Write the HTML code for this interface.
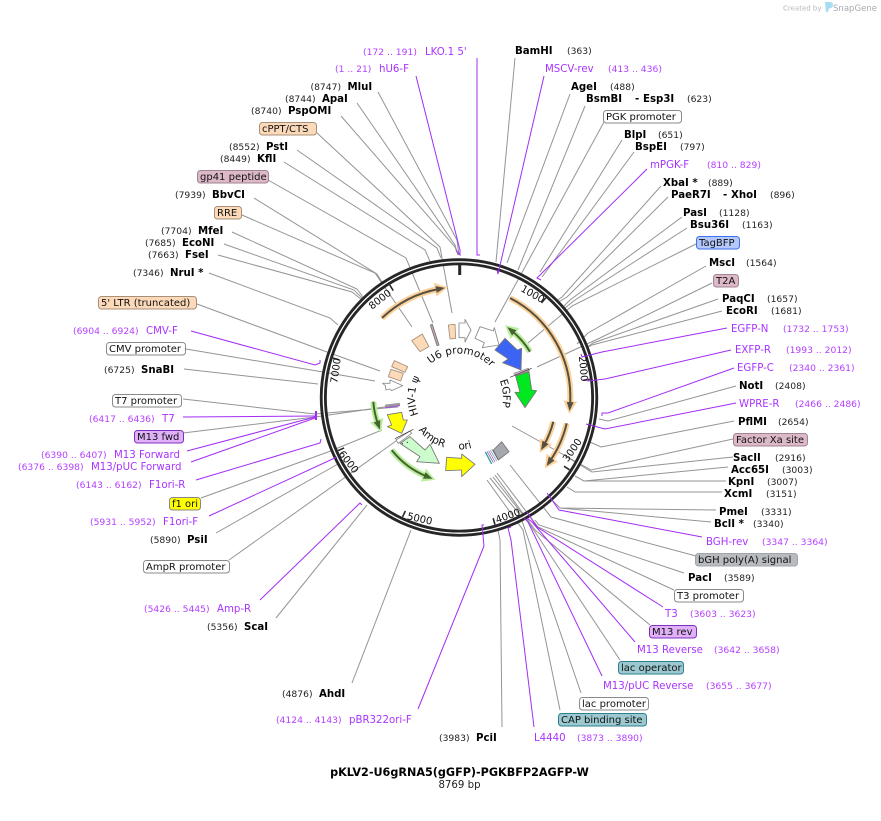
<!DOCTYPE html>
<html><head><meta charset="utf-8"><style>
html,body{margin:0;padding:0;background:#fff}
svg{display:block}
text{font-family:"DejaVu Sans","Liberation Sans",sans-serif;font-size:10.2px;fill:#000;white-space:pre}
.n{font-weight:bold}
.c{font-size:9.2px;fill:#222}
.p{fill:#a933ff}
.pc{font-size:9.2px;fill:#b540ff}
.f{font-size:10px;fill:#111}
.g{fill:none;stroke:#949494;stroke-width:1}
.v{fill:none;stroke:#a32cf5;stroke-width:1}
.t{font-size:10.2px;fill:#222}
.i{font-size:10.5px;fill:#111}
.o{fill:#fcd9b8;stroke:#a89078}
.m{fill:#dcb8c8;stroke:#a0848f}
.w{fill:#fff;stroke:#8a8a8a}
</style></head><body>
<svg width="881" height="821" viewBox="0 0 881 821" xmlns="http://www.w3.org/2000/svg">
<defs>
<path id="cw" d="M415 397.5 A44 44 0 0 1 503 397.5"/>
<path id="ccw" d="M407 397.5 A52 52 0 0 0 511 397.5"/>
<marker id="ho" markerUnits="userSpaceOnUse" markerWidth="20" markerHeight="20" refX="4" refY="10" orient="auto"><polygon points="0,3 13,10 0,17" fill="#fcd29c"/></marker>
<marker id="hd" markerUnits="userSpaceOnUse" markerWidth="16" markerHeight="16" refX="3" refY="8" orient="auto"><polygon points="0,4.5 9,8 0,11.5" fill="#55503f"/></marker>
<marker id="hg" markerUnits="userSpaceOnUse" markerWidth="20" markerHeight="20" refX="4" refY="10" orient="auto"><polygon points="0,3 13,10 0,17" fill="#b9ef9c"/></marker>
<marker id="hn" markerUnits="userSpaceOnUse" markerWidth="16" markerHeight="16" refX="3" refY="8" orient="auto"><polygon points="0,4.5 9,8 0,11.5" fill="#476330"/></marker>
</defs>

<!-- gray connectors -->
<g class="g">
<polyline points="515,58 496,262"/>
<polyline points="570,94 507,263"/>
<polyline points="585,106 518,270"/>
<polyline points="604,122 495,322"/>
<polyline points="622,140 540,272"/>
<polyline points="634,152 542,277"/>
<polyline points="661,186 562,297 555,302"/>
<polyline points="668,197 567,297 557,303"/>
<polyline points="682,217 570,300 562,308"/>
<polyline points="687,228 575,300 565,308"/>
<polyline points="696,244 572,306 528,343"/>
<polyline points="706,266 588,333 577,344"/>
<polyline points="712,283 600,338 537,367"/>
<polyline points="718,299 593,343 583,350"/>
<polyline points="722,311 592,345 583,350"/>
<polyline points="736,386 608,421 599,419"/>
<polyline points="734,421 601,447 590,442"/>
<polyline points="733,439 591,470 512,426"/>
<polyline points="733,457 592,472 565,456"/>
<polyline points="728,467 584,481 575,476"/>
<polyline points="726,481 584,481 575,476"/>
<polyline points="722,492 575,492 567,487"/>
<polyline points="716,510 560,508 552,500"/>
<polyline points="711,522 560,508"/>
<polyline points="696,556 551,517 510,465"/>
<polyline points="684,573 539,525 535,520"/>
<polyline points="674,590 538,527 497,473"/>
<polyline points="650,625 535,530 495,475"/>
<polyline points="620,660 527,520 493,477"/>
<polyline points="581,693 520,515 490,478"/>
<polyline points="560,710 523,530 487,480"/>
<polyline points="502,727 500,540 498,530"/>
<polyline points="352,683 411,530"/>
<polyline points="276,618 367,505"/>
<polyline points="229,560 396,441"/>
<polyline points="216,533 345,460"/>
<polyline points="201,498 328,452 382,430"/>
<polyline points="183,433 315,417 398,405"/>
<polyline points="183,399 315,414 398,407"/>
<polyline points="184,369 318,384"/>
<polyline points="186,349 323,372 375,381"/>
<polyline points="197,304 327,352 380,371"/>
<polyline points="209,273 330,318 338,325"/>
<polyline points="218,255 352,292 362,300"/>
<polyline points="224,244 354,290 362,298"/>
<polyline points="232,232 357,289 363,297"/>
<polyline points="242,215 375,273 412,327"/>
<polyline points="254,198 377,274 382,282"/>
<polyline points="268,180 406,258 433,323"/>
<polyline points="284,162 425,250 433,268"/>
<polyline points="297,150 437,248 441,258"/>
<polyline points="317,133 440,247 452,313"/>
<polyline points="341,116 455,247 458,255"/>
<polyline points="357,103 455,245 458,255"/>
<polyline points="378,92 457,240 459,255"/>
</g>

<!-- plasmid ring -->
<circle cx="459" cy="397.5" r="135.7" fill="none" stroke="#262626" stroke-width="7"/>
<circle cx="459" cy="397.5" r="135.7" fill="none" stroke="#fff" stroke-width="1.3"/>
<line x1="459.7" y1="264.5" x2="459.7" y2="275" stroke="#262626" stroke-width="3"/>
<g stroke="#262626" stroke-width="1.6">
<line x1="459" y1="265.5" x2="459" y2="272" transform="rotate(41.05 459 397.5)"/>
<line x1="459" y1="265.5" x2="459" y2="272" transform="rotate(82.1 459 397.5)"/>
<line x1="459" y1="265.5" x2="459" y2="272" transform="rotate(123.2 459 397.5)"/>
<line x1="459" y1="265.5" x2="459" y2="272" transform="rotate(164.2 459 397.5)"/>
<line x1="459" y1="265.5" x2="459" y2="272" transform="rotate(205.3 459 397.5)"/>
<line x1="459" y1="265.5" x2="459" y2="272" transform="rotate(246.3 459 397.5)"/>
<line x1="459" y1="265.5" x2="459" y2="272" transform="rotate(287.4 459 397.5)"/>
<line x1="459" y1="265.5" x2="459" y2="272" transform="rotate(328.4 459 397.5)"/>
</g>
<g text-anchor="middle" style="font-size:10px">
<text style="font-size:10px;fill:#111" transform="translate(531 297) rotate(30)">1000</text>
<text style="font-size:10px;fill:#111" transform="translate(580 369) rotate(85)">2000</text>
<text style="font-size:10px;fill:#111" transform="translate(575 452) rotate(-55)">3000</text>
<text style="font-size:10px;fill:#111" transform="translate(509 519) rotate(-20)">4000</text>
<text style="font-size:10px;fill:#111" transform="translate(419 522) rotate(13)">5000</text>
<text style="font-size:10px;fill:#111" transform="translate(346 464) rotate(52)">6000</text>
<text style="font-size:10px;fill:#111" transform="translate(339 371) rotate(-82)">7000</text>
<text style="font-size:10px;fill:#111" transform="translate(382 302) rotate(-38)">8000</text>
</g>

<!-- purple primer connectors -->
<g class="v">
<polyline points="477,58 477,255 480,255"/>
<polyline points="416,76 460,250 460,255 456,250"/>
<polyline points="544,76 498,274 497,270"/>
<polyline points="647,169 537,278 541,280"/>
<polyline points="727,328 602,352 582,357 581,354"/>
<polyline points="731,350 605,379 588,381 587,378"/>
<polyline points="734,368 608,413 602,413 602,416"/>
<polyline points="736,403 605,429 586,424"/>
<polyline points="702,537 559,510 547,493"/>
<polyline points="663,607 537,527 527,512"/>
<polyline points="635,642 532,522 527,518"/>
<polyline points="602,676 528,522 524,518"/>
<polyline points="534,727 511,540 508,528 511,527"/>
<polyline points="418,709 484,546 482,525 484,525"/>
<polyline points="260,600 360,503 362,505"/>
<polyline points="196,480 320,443 321,439"/>
<polyline points="191,462 315,418"/>
<polyline points="187,451 315,417"/>
<polyline points="183,417 315,416"/>
<polyline points="209,516 337,457"/>
<polyline points="191,331 315,365 320,363 320,360"/>
</g>
<line x1="316" y1="411" x2="316" y2="420" stroke="#a32cf5" stroke-width="2"/>

<!-- annotation arcs -->
<g fill="none" stroke-linecap="butt">
<path d="M382 318 A111 111 0 0 1 439 289" stroke="#fcd29c" stroke-width="6" marker-end="url(#ho)"/>
<path d="M382 318 A111 111 0 0 1 439 289" stroke="#55503f" stroke-width="2" marker-end="url(#hd)"/>
<path d="M510 298 A111 111 0 0 1 570 405" stroke="#fcd29c" stroke-width="6" marker-end="url(#ho)"/>
<path d="M510 298 A111 111 0 0 1 570 405" stroke="#55503f" stroke-width="2" marker-end="url(#hd)"/>
<path d="M553.3 421.7 A97.5 97.5 0 0 1 544 445" stroke="#fcd29c" stroke-width="6" marker-end="url(#ho)"/>
<path d="M553.3 421.7 A97.5 97.5 0 0 1 544 445" stroke="#55503f" stroke-width="2" marker-end="url(#hd)"/>
<path d="M566.7 423.3 A111 111 0 0 1 550 461" stroke="#fcd29c" stroke-width="6" marker-end="url(#ho)"/>
<path d="M566.7 423.3 A111 111 0 0 1 550 461" stroke="#55503f" stroke-width="2" marker-end="url(#hd)"/>
<path d="M530 351.7 A85 85 0 0 0 512 331" stroke="#b9ef9c" stroke-width="6" marker-end="url(#hg)"/>
<path d="M530 351.7 A85 85 0 0 0 512 331" stroke="#476330" stroke-width="2" marker-end="url(#hn)"/>
<path d="M373.3 401.7 A85 85 0 0 0 378 424" stroke="#b9ef9c" stroke-width="6" marker-end="url(#hg)"/>
<path d="M373.3 401.7 A85 85 0 0 0 378 424" stroke="#476330" stroke-width="2" marker-end="url(#hn)"/>
<path d="M391.7 450 A85 85 0 0 0 427 476.5" stroke="#b9ef9c" stroke-width="6" marker-end="url(#hg)"/>
<path d="M391.7 450 A85 85 0 0 0 427 476.5" stroke="#476330" stroke-width="2" marker-end="url(#hn)"/>
</g>

<!-- feature shapes, traced in 3x space -->
<g transform="translate(310 250) scale(0.33333)" stroke-width="2.6" stroke-linejoin="round">
<polygon class="o" points="305,272 337,252 357,290 330,305"/>
<polygon points="361,225 367,223 387,285 381,287" fill="#c9a0b5" stroke="#777"/>
<polygon class="o" points="415,225 435,223 437,265 420,267"/>
<polygon class="w" points="447,219 465,219 465,208 483,240 465,276 465,263 447,263"/>
<polygon class="w" points="495,265 510,230 550,243 553,233 567,285 517,293 523,278"/>
<polygon points="555,300 585,265 622,300 635,295 633,360 578,338 595,327" fill="#3b64f5" stroke="#777"/>
<polygon points="612,370 655,355 658,362 617,378" fill="#dcb0c6" stroke="#999"/>
<line x1="600" y1="382" x2="665" y2="355" stroke="#333" stroke-width="2"/>
<polygon points="617,378 657,365 665,420 680,422 645,473 615,427 630,427" fill="#00e81f" stroke="#777"/>
<polygon class="o" points="253,332 293,350 285,367 245,350"/>
<polygon class="o" points="243,358 280,370 272,393 235,380"/>
<polygon class="w" points="218,400 240,400 240,390 278,407 245,422 240,417 228,420 226,407"/>
<polygon points="226,465 268,460 269,465 227,470" fill="#999" stroke="#999"/>
<line x1="226" y1="473" x2="270" y2="467" stroke="#a040e0" stroke-width="2.5"/>
<polygon points="232,494 275,487 280,510 292,510 275,550 232,530 245,525" fill="#ffff00" stroke="#777"/>
<polygon class="w" points="258,570 300,543 305,550 265,580"/>
<line x1="255" y1="566" x2="310" y2="538" stroke="#333" stroke-width="2"/>
<polygon points="270,580 300,560 345,600 360,583 388,640 320,635 330,620" fill="#ccfccc" stroke="#777"/>
<circle cx="292" cy="577" r="1.8" fill="#222"/><circle cx="277" cy="581" r="1.8" fill="#222"/>
<polygon points="410,622 455,625 455,612 495,643 455,680 455,660 407,662" fill="#ffff00" stroke="#777"/>
<polygon points="550,600 575,575 597,605 565,630" fill="#a5a9ad" stroke="#777"/>
<line x1="526" y1="606" x2="545" y2="642" stroke="#3a9aaa" stroke-width="4"/>
<line x1="531" y1="604" x2="550" y2="638" stroke="#666" stroke-width="2"/>
<line x1="536" y1="602" x2="555" y2="636" stroke="#a040e0" stroke-width="2"/>
<line x1="541" y1="600" x2="560" y2="633" stroke="#8fbcc4" stroke-width="3"/>
<line x1="546" y1="598" x2="565" y2="631" stroke="#666" stroke-width="2"/>
</g>

<!-- curved inner labels -->
<text class="i" text-anchor="middle" transform="rotate(3 459 397.5)"><textPath href="#cw" startOffset="50%">U6 promoter</textPath></text>
<text class="i" text-anchor="middle" transform="rotate(85 459 397.5)"><textPath href="#cw" startOffset="50%">EGFP</textPath></text>
<text class="i" text-anchor="middle" transform="rotate(-88 459 397.5)"><textPath href="#cw" startOffset="50%">HIV-1 ψ</textPath></text>
<text class="i" text-anchor="middle" transform="rotate(34 459 397.5)"><textPath href="#ccw" startOffset="50%">AmpR</textPath></text>
<text class="i" text-anchor="middle" transform="rotate(-7 459 397.5)"><textPath href="#ccw" startOffset="50%">ori</textPath></text>

<!-- feature label boxes -->
<g stroke-width="1">
<rect class="o" x="259.5" y="122.5" width="57" height="12.5" rx="3"/>
<rect class="m" x="197.5" y="170.5" width="71" height="12.5" rx="3"/>
<rect class="o" x="214.5" y="206.5" width="27" height="12.5" rx="3"/>
<rect class="o" x="98.5" y="296.5" width="98" height="12.5" rx="3"/>
<rect class="w" x="106.5" y="342.5" width="79" height="12.5" rx="3"/>
<rect class="w" x="112.5" y="394.5" width="69" height="12.5" rx="3"/>
<rect x="134.5" y="430.5" width="49" height="12.5" rx="3" fill="#e0b0f8" stroke="#8030c0"/>
<rect x="169.5" y="497.5" width="31" height="12.5" rx="3" fill="#ffff00" stroke="#888"/>
<rect class="w" x="143.5" y="560.5" width="86" height="12.5" rx="3"/>
<rect class="w" x="603.5" y="110.5" width="78" height="12.5" rx="3"/>
<rect x="696.5" y="236.5" width="43" height="12.5" rx="3" fill="#b4c8fa" stroke="#4070f0"/>
<rect class="m" x="713.5" y="274.5" width="25" height="12.5" rx="3"/>
<rect class="m" x="733.5" y="433.5" width="74" height="12.5" rx="3"/>
<rect x="695.5" y="553.5" width="102" height="12.5" rx="3" fill="#b8bcc0" stroke="#a0a4a8"/>
<rect class="w" x="674.5" y="589.5" width="69" height="12.5" rx="3"/>
<rect x="649.5" y="625.5" width="47" height="12.5" rx="3" fill="#e0b0f8" stroke="#8030c0"/>
<rect x="618.5" y="661.5" width="65" height="12.5" rx="3" fill="#9cc8d0" stroke="#2a8090"/>
<rect class="w" x="579.5" y="697.5" width="69" height="12.5" rx="3"/>
<rect x="558.5" y="713.5" width="88" height="12.5" rx="3" fill="#9cc8d0" stroke="#2a8090"/>
</g>
<g class="f">
<text class="f" x="262" y="132">cPPT/CTS</text>
<text class="f" x="200" y="180">gp41 peptide</text>
<text class="f" x="217" y="216">RRE</text>
<text class="f" x="101" y="306">5' LTR (truncated)</text>
<text class="f" x="109" y="352">CMV promoter</text>
<text class="f" x="115" y="404">T7 promoter</text>
<text class="f" x="137" y="440">M13 fwd</text>
<text class="f" x="172" y="507">f1 ori</text>
<text class="f" x="146" y="570">AmpR promoter</text>
<text class="f" x="606" y="120">PGK promoter</text>
<text class="f" x="699" y="246">TagBFP</text>
<text class="f" x="716" y="284">T2A</text>
<text class="f" x="736" y="443">Factor Xa site</text>
<text class="f" x="698" y="563">bGH poly(A) signal</text>
<text class="f" x="677" y="599">T3 promoter</text>
<text class="f" x="652" y="635">M13 rev</text>
<text class="f" x="621" y="671">lac operator</text>
<text class="f" x="582" y="707">lac promoter</text>
<text class="f" x="561" y="723">CAP binding site</text>
</g>

<!-- enzyme labels -->
<text class="c" x="310.5" y="90">(8747)</text><text class="n" x="347.5" y="90">MluI</text>
<text class="c" x="285" y="102">(8744)</text><text class="n" x="322" y="102">ApaI</text>
<text class="c" x="251" y="114">(8740)</text><text class="n" x="288" y="114">PspOMI</text>
<text class="c" x="229" y="150">(8552)</text><text class="n" x="266" y="150">PstI</text>
<text class="c" x="220" y="162">(8449)</text><text class="n" x="257" y="162">KflI</text>
<text class="c" x="175" y="198">(7939)</text><text class="n" x="212" y="198">BbvCI</text>
<text class="c" x="161" y="234">(7704)</text><text class="n" x="198" y="234">MfeI</text>
<text class="c" x="145" y="246">(7685)</text><text class="n" x="182" y="246">EcoNI</text>
<text class="c" x="148" y="258">(7663)</text><text class="n" x="185" y="258">FseI</text>
<text class="c" x="133" y="276">(7346)</text><text class="n" x="170" y="276">NruI *</text>
<text class="c" x="104" y="373">(6725)</text><text class="n" x="141" y="373">SnaBI</text>
<text class="c" x="150" y="543">(5890)</text><text class="n" x="187" y="543">PsiI</text>
<text class="c" x="207" y="630">(5356)</text><text class="n" x="244" y="630">ScaI</text>
<text class="c" x="282" y="697">(4876)</text><text class="n" x="319" y="697">AhdI</text>
<text class="c" x="439" y="741">(3983)</text><text class="n" x="476" y="741">PciI</text>
<text class="n" x="515" y="54">BamHI</text><text class="c" x="567" y="54">(363)</text>
<text class="n" x="571" y="90">AgeI</text><text class="c" x="610" y="90">(488)</text>
<text class="n" x="586" y="102">BsmBI</text><text class="n" x="635" y="102">-</text><text class="n" x="643" y="102">Esp3I</text><text class="c" x="687" y="102">(623)</text>
<text class="n" x="624" y="138">BlpI</text><text class="c" x="658" y="138">(651)</text>
<text class="n" x="635" y="150">BspEI</text><text class="c" x="680" y="150">(797)</text>
<text class="n" x="663" y="186">XbaI *</text><text class="c" x="708" y="186">(889)</text>
<text class="n" x="671" y="198">PaeR7I</text><text class="n" x="723" y="198">-</text><text class="n" x="731" y="198">XhoI</text><text class="c" x="770" y="198">(896)</text>
<text class="n" x="683" y="216">PasI</text><text class="c" x="719" y="216">(1128)</text>
<text class="n" x="690" y="228">Bsu36I</text><text class="c" x="742" y="228">(1163)</text>
<text class="n" x="709" y="266">MscI</text><text class="c" x="746" y="266">(1564)</text>
<text class="n" x="722" y="302">PaqCI</text><text class="c" x="767" y="302">(1657)</text>
<text class="n" x="726" y="314">EcoRI</text><text class="c" x="771" y="314">(1681)</text>
<text class="n" x="739" y="389">NotI</text><text class="c" x="775" y="389">(2408)</text>
<text class="n" x="738" y="425">PflMI</text><text class="c" x="778" y="425">(2654)</text>
<text class="n" x="733" y="461">SacII</text><text class="c" x="775" y="461">(2916)</text>
<text class="n" x="731" y="473">Acc65I</text><text class="c" x="782" y="473">(3003)</text>
<text class="n" x="728" y="485">KpnI</text><text class="c" x="767" y="485">(3007)</text>
<text class="n" x="724" y="497">XcmI</text><text class="c" x="766" y="497">(3151)</text>
<text class="n" x="719" y="515">PmeI</text><text class="c" x="761" y="515">(3331)</text>
<text class="n" x="714" y="527">BclI *</text><text class="c" x="753" y="527">(3340)</text>
<text class="n" x="688" y="581">PacI</text><text class="c" x="724" y="581">(3589)</text>

<!-- primer labels -->
<text class="pc" x="363" y="55">(172 .. 191)</text><text class="p" x="425" y="55">LKO.1 5'</text>
<text class="pc" x="335" y="72">(1 .. 21)</text><text class="p" x="379" y="72">hU6-F</text>
<text class="pc" x="73" y="334">(6904 .. 6924)</text><text class="p" x="146" y="334">CMV-F</text>
<text class="pc" x="89" y="422">(6417 .. 6436)</text><text class="p" x="162" y="422">T7</text>
<text class="pc" x="41" y="458">(6390 .. 6407)</text><text class="p" x="114" y="458">M13 Forward</text>
<text class="pc" x="18" y="470">(6376 .. 6398)</text><text class="p" x="91" y="470">M13/pUC Forward</text>
<text class="pc" x="76" y="488">(6143 .. 6162)</text><text class="p" x="149" y="488">F1ori-R</text>
<text class="pc" x="90" y="525">(5931 .. 5952)</text><text class="p" x="163" y="525">F1ori-F</text>
<text class="pc" x="144" y="612">(5426 .. 5445)</text><text class="p" x="217" y="612">Amp-R</text>
<text class="pc" x="276" y="723">(4124 .. 4143)</text><text class="p" x="349" y="723">pBR322ori-F</text>
<text class="p" x="545" y="72">MSCV-rev</text><text class="pc" x="608" y="72">(413 .. 436)</text>
<text class="p" x="650" y="168">mPGK-F</text><text class="pc" x="707" y="168">(810 .. 829)</text>
<text class="p" x="731" y="332">EGFP-N</text><text class="pc" x="783" y="332">(1732 .. 1753)</text>
<text class="p" x="735" y="353">EXFP-R</text><text class="pc" x="786" y="353">(1993 .. 2012)</text>
<text class="p" x="737" y="371">EGFP-C</text><text class="pc" x="789" y="371">(2340 .. 2361)</text>
<text class="p" x="739" y="407">WPRE-R</text><text class="pc" x="795" y="407">(2466 .. 2486)</text>
<text class="p" x="706" y="545">BGH-rev</text><text class="pc" x="762" y="545">(3347 .. 3364)</text>
<text class="p" x="665" y="617">T3</text><text class="pc" x="690" y="617">(3603 .. 3623)</text>
<text class="p" x="637" y="653">M13 Reverse</text><text class="pc" x="714" y="653">(3642 .. 3658)</text>
<text class="p" x="603" y="689">M13/pUC Reverse</text><text class="pc" x="706" y="689">(3655 .. 3677)</text>
<text class="p" x="534" y="741">L4440</text><text class="pc" x="577" y="741">(3873 .. 3890)</text>

<!-- title -->
<text x="459.5" y="776" text-anchor="middle" style="font-weight:bold;font-size:11.2px">pKLV2-U6gRNA5(gGFP)-PGKBFP2AGFP-W</text>
<text x="459.5" y="788" text-anchor="middle" style="font-size:10.2px;fill:#222">8769 bp</text>

<!-- logo -->
<text x="783" y="10.5" style="font-size:7px;fill:#b4b8bc">Created by</text>
<path d="M825 2 L830 2 Q833 2 833 5 Q833 8 829 8.5 L828 12 L826 12 Z" fill="#a8dcf2"/>
<text x="833" y="11" textLength="44" lengthAdjust="spacingAndGlyphs" style="font-size:9px;fill:#a6abb0">SnapGene</text>
</svg>
</body></html>
